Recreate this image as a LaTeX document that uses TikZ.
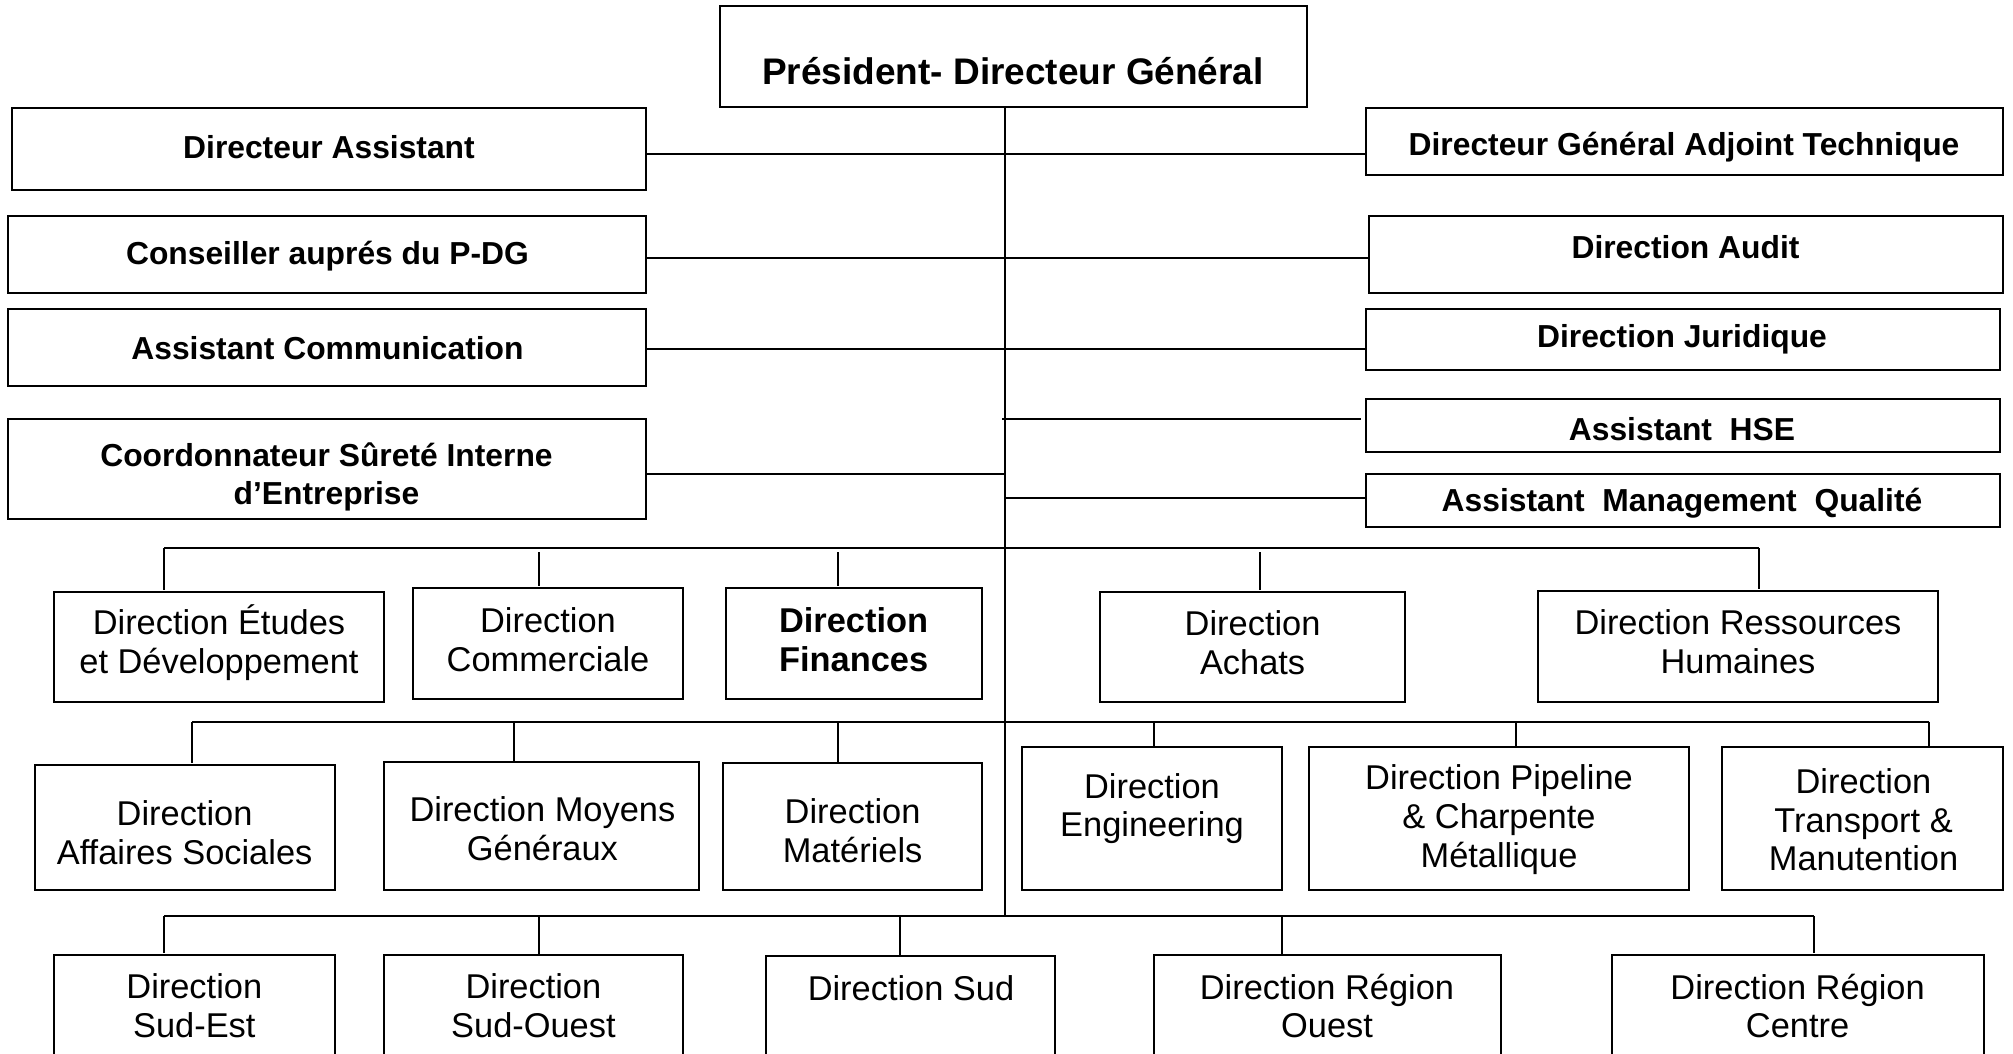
\documentclass[tikz,border=0pt]{standalone}
\usepackage{fontspec}
\setmainfont{Liberation Sans}
\begin{document}
\begin{tikzpicture}[x=1pt,y=-1pt,
  box/.style={draw, rectangle, line width=2pt, inner sep=0pt, outer sep=0pt},
  link/.style={line width=2pt},
  pdgtxt/.style={font=\bfseries\fontsize{37}{44}\selectfont, align=center, inner sep=0pt},
  toptxt/.style={font=\bfseries\fontsize{31.8}{38}\selectfont, align=center, inner sep=0pt},
  rowtxt/.style={font=\fontsize{34.4}{38.8}\selectfont, align=center, inner sep=0pt},
  rowbold/.style={rowtxt, font=\bfseries\fontsize{34.4}{38.8}\selectfont},
  gapped/.style={shorten <=4pt, shorten >=2pt},
  drop/.style={shorten >=2pt}]
\useasboundingbox (0,0) rectangle (2013,1054);
\clip (0,0) rectangle (2013,1054);

% box: name, left, top, right, bottom (pixel grid)
\newcommand\orgbox[5]{\node[box, minimum width={(#4)-(#2)}, minimum height={(#5)-(#3)}] (#1) at ({((#2)+(#4))/2},{((#3)+(#5))/2}) {};}

% ---- head ----
\orgbox{pdg}{720}{6}{1307}{107}
\node[pdgtxt] (pdg-t) at (1013,71) {Président- Directeur Général};

% ---- staff boxes, left ----
\orgbox{da}{12}{108.5}{646}{189.5}
\node[toptxt] (da-t) at (329,147.5) {Directeur Assistant};
\orgbox{cons}{8}{216}{646}{293}
\node[toptxt] (cons-t) at (327.5,256.5) {Conseiller auprés du P-DG};
\orgbox{com}{8}{309}{646}{386}
\node[toptxt] (com-t) at (327.5,348.5) {Assistant Communication};
\orgbox{sur}{8}{419}{646}{519}
\node[toptxt] (sur-t) at (326.5,477) {Coordonnateur Sûreté Interne\\d’Entreprise};

% ---- staff boxes, right ----
\orgbox{dgat}{1366}{108.5}{2003}{175}
\node[toptxt] (dgat-t) at (1684,147.4) {Directeur Général Adjoint Technique};
\orgbox{aud}{1369}{216}{2003}{293}
\node[toptxt] (aud-t) at (1685.5,247) {Direction Audit};
\orgbox{jur}{1366}{309}{2000}{370}
\node[toptxt] (jur-t) at (1682,339) {Direction Juridique};
\orgbox{hse}{1366}{399}{2000}{452}
\node[toptxt] (hse-t) at (1682,429) {Assistant\ \ HSE};
\orgbox{amq}{1366}{473.5}{2000}{527}
\node[toptxt] (amq-t) at (1682,503) {Assistant\ \ Management\ \ Qualité};

% ---- row 1 ----
\orgbox{etu}{54}{591.5}{384}{702}
\node[rowtxt] (etu-t) at (219,642.5) {Direction Études\\et Développement};
\orgbox{cmc}{413}{588}{683}{699}
\node[rowtxt] (cmc-t) at (548,640) {Direction\\Commerciale};
\orgbox{fin}{726}{588}{982}{699}
\node[rowbold] (fin-t) at (853.6,640) {Direction\\Finances};
\orgbox{ach}{1100}{591.5}{1405}{702}
\node[rowtxt] (ach-t) at (1252.6,642.5) {Direction\\Achats};
\orgbox{rh}{1538}{590.5}{1938}{702}
\node[rowtxt] (rh-t) at (1738,641.5) {Direction Ressources\\Humaines};

% ---- row 2 ----
\orgbox{aso}{35}{765}{335}{889.5}
\node[rowtxt] (aso-t) at (184.6,832.5) {Direction\\Affaires Sociales};
\orgbox{mg}{383.5}{762}{699}{889.5}
\node[rowtxt] (mg-t) at (542.4,829) {Direction Moyens\\Généraux};
\orgbox{mat}{723}{763}{982}{889.5}
\node[rowtxt] (mat-t) at (852.6,830.5) {Direction\\Matériels};
\orgbox{eng}{1022}{747}{1281.5}{889.5}
\node[rowtxt] (eng-t) at (1152,808.5) {Direction\\Engineering};
\orgbox{pip}{1309}{747}{1689}{889.5}
\node[rowtxt] (pip-t) at (1499,819.7) {Direction Pipeline\\\& Charpente\\Métallique};
\orgbox{tra}{1721.5}{747}{2003}{889.5}
\node[rowtxt] (tra-t) at (1863.5,819.7) {Direction\\Transport \&\\Manutention};

% ---- row 3 (regions) ----
\orgbox{se}{54}{955}{335}{1120}
\node[rowtxt] (se-t) at (194.3,1006) {Direction\\Sud-Est};
\orgbox{so}{383.5}{955}{683}{1120}
\node[rowtxt] (so-t) at (533.4,1006) {Direction\\Sud-Ouest};
\orgbox{sud}{766}{956}{1055}{1120}
\node[rowtxt] (sud-t) at (911,988) {Direction Sud};
\orgbox{oue}{1154}{955}{1500.5}{1120}
\node[rowtxt] (oue-t) at (1327,1006) {Direction Région\\Ouest};
\orgbox{cen}{1612}{955}{1983.5}{1120}
\node[rowtxt] (cen-t) at (1797.6,1006) {Direction Région\\Centre};

% ---- spine and staff links ----
\coordinate (sp) at (1004.5,916);
\draw[link] (pdg.south -| sp) -- (sp);
\coordinate (ya) at (1004.5,153.6);
\coordinate (yb) at (1004.5,258);
\coordinate (yc) at (1004.5,348.5);
\coordinate (yh) at (1002,419.3);
\coordinate (ys) at (1004.5,473.7);
\coordinate (yq) at (1004.5,497.7);
\draw[link] (da.east |- ya) -- (dgat.west |- ya);
\draw[link] (cons.east |- yb) -- (aud.west |- yb);
\draw[link] (com.east |- yc) -- (jur.west |- yc);
\draw[link, shorten >=5pt] (yh) -- (hse.west |- yh);
\draw[link] (sur.east |- ys) -- (ys);
\draw[link] (yq) -- (amq.west |- yq);

% ---- row 1 bus ----
\coordinate (b1a) at (164,548);
\coordinate (b1b) at (539,548);
\coordinate (b1c) at (838,548);
\coordinate (b1d) at (1260,548);
\coordinate (b1e) at (1759,548);
\draw[link] (b1a) -- (b1e);
\draw[link, drop] (b1a) -- (etu.north -| b1a);
\draw[link, gapped] (b1b) -- (cmc.north -| b1b);
\draw[link, gapped] (b1c) -- (fin.north -| b1c);
\draw[link, gapped] (b1d) -- (ach.north -| b1d);
\draw[link, drop] (b1e) -- (rh.north -| b1e);

% ---- row 2 bus ----
\coordinate (b2a) at (192,721.7);
\coordinate (b2b) at (514,721.7);
\coordinate (b2c) at (838,721.7);
\coordinate (b2d) at (1154,721.7);
\coordinate (b2e) at (1516,721.7);
\coordinate (b2f) at (1929,721.7);
\draw[link] (b2a) -- (b2f);
\draw[link, drop] (b2a) -- (aso.north -| b2a);
\draw[link] (b2b) -- (mg.north -| b2b);
\draw[link] (b2c) -- (mat.north -| b2c);
\draw[link] (b2d) -- (eng.north -| b2d);
\draw[link] (b2e) -- (pip.north -| b2e);
\draw[link] (b2f) -- (tra.north -| b2f);

% ---- row 3 bus ----
\coordinate (b3a) at (164,916);
\coordinate (b3b) at (539,916);
\coordinate (b3c) at (900,916);
\coordinate (b3d) at (1281.5,916);
\coordinate (b3e) at (1814,916);
\draw[link] (b3a) -- (b3e);
\draw[link, drop] (b3a) -- (se.north -| b3a);
\draw[link] (b3b) -- (so.north -| b3b);
\draw[link] (b3c) -- (sud.north -| b3c);
\draw[link] (b3d) -- (oue.north -| b3d);
\draw[link, drop] (b3e) -- (cen.north -| b3e);
\end{tikzpicture}
\end{document}
